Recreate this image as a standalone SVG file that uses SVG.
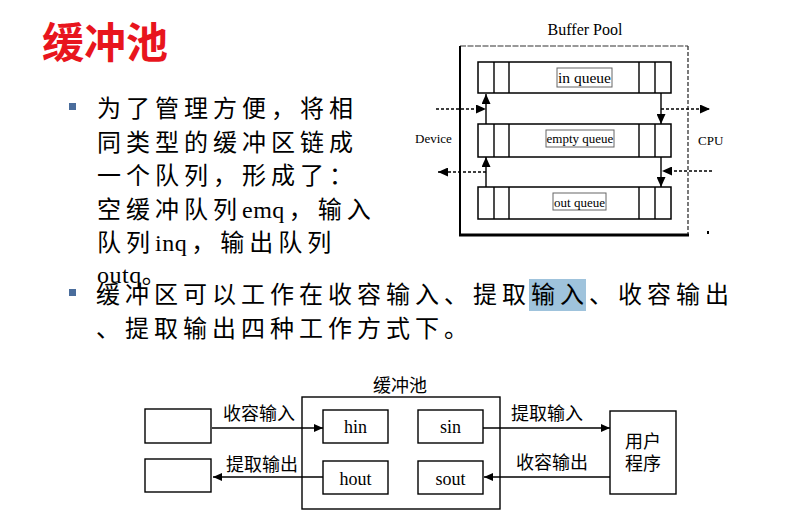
<svg xmlns="http://www.w3.org/2000/svg" width="795" height="532" viewBox="0 0 795 532">
  <style>
    .title { font-family: "Noto Sans CJK SC", sans-serif; font-size: 42px; fill: #e8151d; font-weight: bold; }
    .body { font-family: "Liberation Serif", "Noto Sans CJK SC", serif; font-size: 24px; fill: #000; letter-spacing: 5px; }
    .lat { letter-spacing: 0.5px; }
    .bullet { fill: #4a6d9c; }
    .serif { font-family: "Liberation Serif", serif; fill: #000; }
    .cjk { font-family: "Noto Sans CJK SC", sans-serif; font-size: 18px; fill: #000; }
    .box { fill: #fff; stroke: #000; stroke-width: 1.4; }
    .qbox { fill: #fff; stroke: #000; stroke-width: 1.5; }
    .lbl { fill: #fff; stroke: #666; stroke-width: 1; }
    .ln { fill: none; stroke: #000; stroke-width: 1.4; }
    .dash { fill: none; stroke: #000; stroke-width: 1.5; stroke-dasharray: 3 2; }
  </style>
  <defs>
    <marker id="arrowSm" markerUnits="userSpaceOnUse" markerWidth="10" markerHeight="8" refX="9" refY="4" orient="auto">
      <path d="M0,0 L9,4 L0,8 z" fill="#000"/>
    </marker>
    <marker id="arrowBp" markerUnits="userSpaceOnUse" markerWidth="11" markerHeight="9" refX="10" refY="4.5" orient="auto">
      <path d="M0,0 L10,4.5 L0,9 z" fill="#000"/>
    </marker>
  </defs>

  <rect width="795" height="532" fill="#fff"/>

  <!-- heading -->
  <text class="title" x="42" y="58">缓冲池</text>

  <!-- bullet list -->
  <g id="bullets">
    <rect class="bullet" x="69" y="103" width="7" height="7"/>
    <text class="body" x="97" y="117">为了管理方便，将相</text>
    <text class="body" x="97" y="151">同类型的缓冲区链成</text>
    <text class="body" x="97" y="184">一个队列，形成了：</text>
    <text class="body" x="97" y="218">空缓冲队列<tspan class="lat">emq</tspan><tspan dx="4">，输入</tspan></text>
    <text class="body" x="97" y="251">队列<tspan class="lat">inq</tspan><tspan dx="4">，输出队列</tspan></text>
    <text class="body" x="97" y="283"><tspan class="lat">outq</tspan>。</text>

    <rect class="bullet" x="69" y="289" width="7" height="7"/>
    <rect x="529" y="279" width="57" height="32" fill="#9fc3dc"/>
    <text class="body" x="96" y="303">缓冲区可以工作在收容输入、提取输入、收容输出</text>
    <text class="body" x="96" y="337">、提取输出四种工作方式下。</text>
  </g>

  <!-- Buffer Pool figure -->
  <g id="buffer-pool">
    <text class="serif" x="585" y="35" font-size="16" text-anchor="middle">Buffer Pool</text>
    <line x1="460" y1="46" x2="688" y2="46" stroke="#333" stroke-width="1.2" stroke-dasharray="6 1.5"/>
    <line x1="460" y1="46" x2="460" y2="235" stroke="#000" stroke-width="2"/>
    <line x1="688" y1="46" x2="688" y2="235" stroke="#333" stroke-width="1.3" stroke-dasharray="4 2"/>
    <line x1="459" y1="235" x2="689" y2="235" stroke="#000" stroke-width="3"/>
    <rect x="707" y="231" width="2" height="3" fill="#000"/>
    <text class="serif" x="415" y="143" font-size="13">Device</text>
    <text class="serif" x="698" y="145" font-size="13">CPU</text>
  </g>

  <g id="in-queue">
    <rect class="qbox" x="478" y="62" width="193" height="31"/>
    <path class="ln" d="M494,62V93M509,62V93M639,62V93M655,62V93" stroke-width="1.5"/>
    <rect class="lbl" x="557" y="68" width="55" height="19"/>
    <text class="serif" x="584.5" y="83" font-size="15.5" text-anchor="middle">in queue</text>
  </g>

  <g id="empty-queue">
    <rect class="qbox" x="478" y="124" width="193" height="33"/>
    <path class="ln" d="M494,124V157M509,124V157M639,124V157M655,124V157" stroke-width="1.5"/>
    <rect class="lbl" x="546" y="130" width="68" height="17"/>
    <text class="serif" x="580" y="143" font-size="13" text-anchor="middle">empty queue</text>
  </g>

  <g id="out-queue">
    <rect class="qbox" x="478" y="187" width="193" height="32"/>
    <path class="ln" d="M494,187V219M509,187V219M639,187V219M655,187V219" stroke-width="1.5"/>
    <rect class="lbl" x="553" y="193" width="53" height="17"/>
    <text class="serif" x="579.5" y="207" font-size="13" text-anchor="middle">out queue</text>
  </g>

  <g id="buffer-pool-connectors">
    <line class="ln" x1="486" y1="124" x2="486" y2="94" marker-end="url(#arrowBp)"/>
    <line class="ln" x1="486" y1="187" x2="486" y2="157" marker-end="url(#arrowBp)"/>
    <line class="ln" x1="661" y1="93" x2="661" y2="124" marker-end="url(#arrowBp)"/>
    <line class="ln" x1="661" y1="157" x2="661" y2="187" marker-end="url(#arrowBp)"/>
    <line class="dash" x1="436" y1="109" x2="486" y2="109" marker-end="url(#arrowBp)"/>
    <line class="dash" x1="661" y1="109" x2="710" y2="109" marker-end="url(#arrowBp)"/>
    <line class="dash" x1="486" y1="172" x2="438" y2="172" marker-end="url(#arrowBp)"/>
    <line class="dash" x1="712" y1="171" x2="662" y2="171" marker-end="url(#arrowBp)"/>
  </g>

  <!-- lower figure: buffer pool working modes -->
  <g id="device-in">
    <rect class="box" x="145" y="409" width="66" height="34"/>
  </g>
  <g id="device-out">
    <rect class="box" x="145" y="459" width="66" height="33"/>
  </g>
  <g id="pool">
    <rect class="box" x="302" y="397" width="198" height="112"/>
    <text class="cjk" x="400" y="392" text-anchor="middle">缓冲池</text>
  </g>
  <g id="hin">
    <rect class="box" x="323" y="410" width="65" height="33"/>
    <text class="serif" x="355.5" y="433" font-size="18" text-anchor="middle">hin</text>
  </g>
  <g id="sin">
    <rect class="box" x="418" y="410" width="65" height="33"/>
    <text class="serif" x="450.5" y="433" font-size="18" text-anchor="middle">sin</text>
  </g>
  <g id="hout">
    <rect class="box" x="323" y="461" width="65" height="33"/>
    <text class="serif" x="355.5" y="485" font-size="18" text-anchor="middle">hout</text>
  </g>
  <g id="sout">
    <rect class="box" x="418" y="461" width="65" height="33"/>
    <text class="serif" x="450.5" y="485" font-size="18" text-anchor="middle">sout</text>
  </g>
  <g id="user-program">
    <rect class="box" x="610" y="411" width="66" height="83"/>
    <text class="cjk" x="643" y="448" text-anchor="middle">用户</text>
    <text class="cjk" x="643" y="470" text-anchor="middle">程序</text>
  </g>

  <g id="connectors">
    <line class="ln" x1="212" y1="428" x2="323" y2="428" marker-end="url(#arrowSm)"/>
    <line class="ln" x1="323" y1="477" x2="213" y2="477" marker-end="url(#arrowSm)"/>
    <line class="ln" x1="483" y1="428" x2="610" y2="428" marker-end="url(#arrowSm)"/>
    <line class="ln" x1="610" y1="477" x2="484" y2="477" marker-end="url(#arrowSm)"/>
    <text class="cjk" x="259" y="420" text-anchor="middle">收容输入</text>
    <text class="cjk" x="262" y="471" text-anchor="middle">提取输出</text>
    <text class="cjk" x="547" y="420" text-anchor="middle">提取输入</text>
    <text class="cjk" x="552" y="469" text-anchor="middle">收容输出</text>
  </g>
</svg>
